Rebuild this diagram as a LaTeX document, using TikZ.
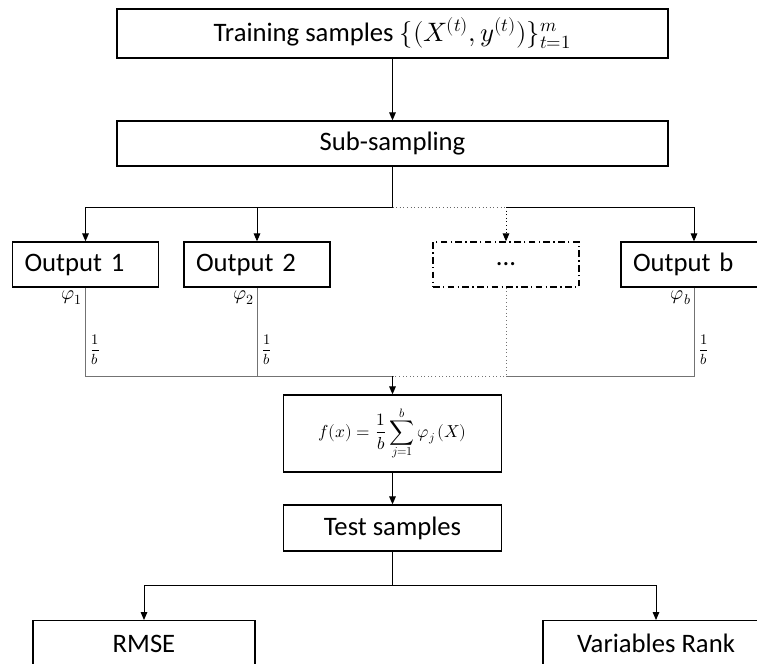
\documentclass[tikz,border=0pt]{standalone}
\usepackage{fontspec}
\usepackage{unicode-math}
\setmainfont{Carlito}
\setmathfont{Latin Modern Math}
\usetikzlibrary{arrows.meta}

\begin{document}
\begin{tikzpicture}[x=0.75pt, y=-0.75pt, line width=0.7pt,
  box/.style={draw, line width=1pt, minimum height=33.75pt, inner sep=3pt, font=\fontsize{20}{24}\selectfont},
  outbox/.style={box, minimum width=109.5pt, text width=91.5pt, inner xsep=9pt, align=left},
  link/.style={-{Triangle[length=6pt,width=5pt]}},
  feed/.style={draw=black!55},
  lbl/.style={font=\fontsize{15}{17}\selectfont, inner sep=2pt},
  wlbl/.style={font=\fontsize{11}{13}\selectfont, inner sep=3pt}]
  \clip (0,0) rectangle (757,664);
  % boxes
  \node[box, minimum width=413.25pt, minimum height=36.75pt] (train) at (392.5,33.5) {Training samples $\{(X^{(t)},y^{(t)})\}_{t=1}^{m}$};
  \node[box, minimum width=413.25pt] (sub) at (392.5,143.5) {Sub-sampling};
  \node[outbox] (out1) at (85.5,264.5) {Output 1};
  \node[outbox] (out2) at (257,264.5) {Output 2};
  \node[box, minimum width=109.5pt, dash pattern=on 5pt off 2.5pt on 1pt off 2.5pt] (dots) at (506,264.5) {...};
  \node[outbox] (outb) at (694,264.5) {Output b};
  \node[box, minimum width=163.5pt, minimum height=57.75pt, font=\fontsize{13}{15}\selectfont] (fx) at (392.5,433.5) {$\displaystyle f(x)=\frac{1}{b}\sum_{j=1}^{b}\varphi_j\,(X)$};
  \node[box, minimum width=163.5pt, minimum height=34.5pt] (test) at (392.5,528) {Test samples};
  \node[box, minimum width=166.5pt, minimum height=34.5pt, anchor=north] (rmse) at (144,620) {RMSE};
  \node[box, minimum width=169.5pt, minimum height=34.5pt, anchor=north] (rank) at (656,620) {Variables Rank};
  % split to the outputs
  \coordinate (split) at (392.5,207);
  \coordinate (dsplit) at (506,207);
  \draw[link] (train) -- (sub);
  \draw (sub) -- (split);
  \draw[link] (split) -| (out1);
  \draw[link] (split) -| (out2);
  \draw[dotted, black!60] (split) -- (dsplit);
  \draw[link, dotted] (dsplit) -- (dots);
  \draw[link] (dsplit) -| (outb);
  % weighted merge
  \coordinate (merge) at (392.5,376);
  \coordinate (dmerge) at (506,376);
  \draw[feed] (out1) |- (merge);
  \draw[feed] (out2) |- (merge);
  \draw[feed] (outb) |- (dmerge);
  \draw[feed, dotted] (dots) -- (dmerge) -- (merge);
  \draw[link] (merge) -- (fx);
  \node[lbl, anchor=north east] (phi1) at (out1.south) {$\varphi_1$};
  \node[lbl, anchor=north east] (phi2) at (out2.south) {$\varphi_2$};
  \node[lbl, anchor=north east] (phib) at (outb.south) {$\varphi_b$};
  \path (out1.south) -- (out1.south |- merge) node[wlbl, pos=0.7, right] (w1) {$\displaystyle\frac{1}{b}$};
  \path (out2.south) -- (out2.south |- merge) node[wlbl, pos=0.7, right] (w2) {$\displaystyle\frac{1}{b}$};
  \path (outb.south) -- (outb.south |- merge) node[wlbl, pos=0.7, right] (wb) {$\displaystyle\frac{1}{b}$};
  % evaluation
  \coordinate (split2) at (392.5,585);
  \draw[link] (fx) -- (test);
  \draw (test) -- (split2);
  \draw[link] (split2) -| (rmse);
  \draw[link] (split2) -| (rank);
\end{tikzpicture}
\end{document}
